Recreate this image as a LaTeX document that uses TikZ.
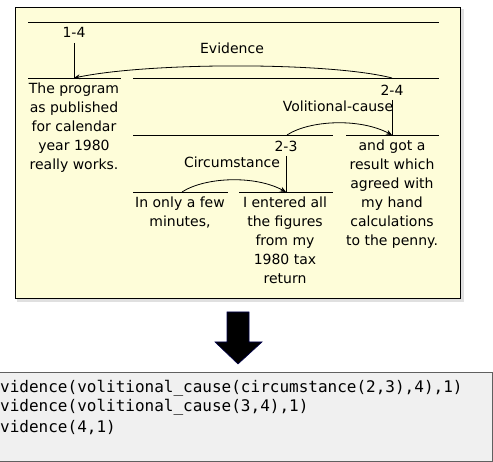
\documentclass[tikz,border=0pt]{standalone}
\usepackage{fontspec}
\setmainfont{DejaVu Sans}
\newfontfamily\codefont{DejaVu Sans Mono}
\usetikzlibrary{arrows.meta}
\definecolor{paper}{HTML}{FEFDD9}
\definecolor{codebg}{HTML}{F0F0F0}
\definecolor{codeedge}{HTML}{606060}
\tikzset{
  seg/.style={line width=0.9pt},
  txt/.style={inner sep=0pt, font=\fontsize{14}{19}\selectfont, align=center, anchor=base},
  lbl/.style={inner sep=0pt, font=\fontsize{14}{19}\selectfont, anchor=base},
  rel/.style={line width=0.8pt, -{Stealth[length=6pt,width=5pt]}},
  code/.style={inner sep=0pt, font=\codefont\fontsize{16}{20}\selectfont, anchor=base west},
}
\begin{document}
\begin{tikzpicture}[x=1pt,y=-1pt]
\useasboundingbox (0,0) rectangle (493,462);
% shadow and paper of the RST tree panel
\fill[black!25] (18,10) rectangle (463,301);
\fill[black!12] (17,9) rectangle (464,302);
\filldraw[fill=paper, draw=black, line width=0.8pt] (15,7) rectangle (460,298);

% horizontal span lines
\draw[seg] (28,22) -- (439,22);
\draw[seg] (28,78) -- (121,78);
\draw[seg] (133,78) -- (439,78);
\draw[seg] (133,135) -- (333,135);
\draw[seg] (346,135) -- (439,135);
\draw[seg] (133,192) -- (228,192);
\draw[seg] (239,192) -- (333,192);

% span labels and their stems
\node[lbl] (s14) at (74,38) {1-4};
\coordinate (n1) at (74,78);
\draw[seg] (74,43) -- (n1);

\node[lbl] (s24) at (392,96) {2-4};
\coordinate (n24) at (392,135);
\draw[seg] (392,100) -- (n24);

\node[lbl] (s23) at (286,152) {2-3};
\coordinate (n23) at (286,192);
\draw[seg] (286,156) -- (n23);

% relation names
\node[lbl] (ev) at (232,54) {Evidence};
\node[lbl] (vc) at (338,112) {Volitional-cause};
\node[lbl] (ci) at (232,168) {Circumstance};

% relation arcs
\coordinate (evs) at (392,78);
\draw[rel] (evs) .. controls (330,62) and (150,62) .. (n1);
\coordinate (vcs) at (287,135);
\draw[rel] (vcs) .. controls (310,120) and (360,118) .. (n24);
\coordinate (cis) at (182,192);
\draw[rel] (cis) .. controls (205,177) and (255,175) .. (n23);

% elementary discourse units
\node[txt, anchor=north] (e1) at (74,83) {The program\\as published\\for calendar\\year 1980\\really works.};
\node[txt, anchor=north] (e2) at (180,197) {In only a few\\minutes,};
\node[txt, anchor=north] (e3) at (285,197) {I entered all\\the figures\\from my\\1980 tax\\return};
\node[txt, anchor=north] (e4) at (392,140) {and got a\\result which\\agreed with\\my hand\\calculations\\to the penny.};

% block arrow
\filldraw[fill=black, draw=black!70!blue, line width=0.6pt]
  (227,312) -- (249,312) -- (249,342) -- (262,342) -- (238,364)
  -- (215,342) -- (227,342) -- cycle;

% output panel
\filldraw[fill=codebg, draw=codeedge, line width=0.8pt] (-2,372) rectangle (492,461);
\node[code] (c1) at (0,392) {vidence(volitional\_cause(circumstance(2,3),4),1)};
\node[code] (c2) at (0,412) {vidence(volitional\_cause(3,4),1)};
\node[code] (c3) at (0,432) {vidence(4,1)};
\end{tikzpicture}
\end{document}
